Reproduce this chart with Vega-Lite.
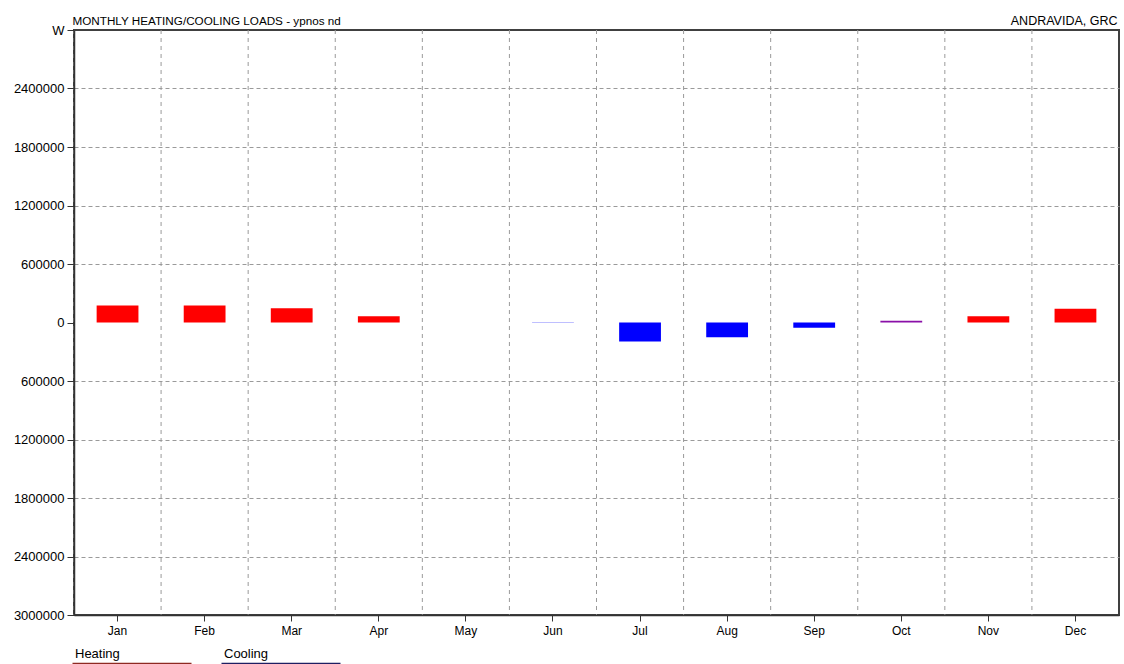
{
  "$schema": "https://vega.github.io/schema/vega-lite/v6.json",
  "width": 1045,
  "height": 585,
  "autosize": {"type": "none"},
  "padding": {"left": 74, "top": 30, "right": 5, "bottom": 49},
  "background": "#ffffff",
  "config": {
    "font": "Liberation Sans",
    "view": {"stroke": "#404040", "strokeWidth": 2}
  },
  "data": {
    "values": [
      {"month": "Jan", "load": 175000, "type": "Heating"},
      {"month": "Feb", "load": 175000, "type": "Heating"},
      {"month": "Mar", "load": 145000, "type": "Heating"},
      {"month": "Apr", "load": 65000, "type": "Heating"},
      {"month": "May", "load": 0, "type": "Heating"},
      {"month": "Jun", "load": -3000, "type": "Cooling"},
      {"month": "Jul", "load": -195000, "type": "Cooling"},
      {"month": "Aug", "load": -150000, "type": "Cooling"},
      {"month": "Sep", "load": -55000, "type": "Cooling"},
      {"month": "Oct", "load": 18000, "type": "Mixed"},
      {"month": "Nov", "load": 65000, "type": "Heating"},
      {"month": "Dec", "load": 140000, "type": "Heating"}
    ]
  },
  "encoding": {
    "x": {
      "field": "month",
      "type": "nominal",
      "sort": null,
      "scale": {
        "domain": ["Jan", "Feb", "Mar", "Apr", "May", "Jun", "Jul", "Aug", "Sep", "Oct", "Nov", "Dec"],
        "paddingInner": 0,
        "paddingOuter": 0
      },
      "axis": {
        "title": "ANDRAVIDA, GRC",
        "titleX": 1043,
        "titleY": -591,
        "titleAlign": "right",
        "titleAngle": 0,
        "titleBaseline": "alphabetic",
        "titleFontSize": 12.5,
        "titleFontWeight": "normal",
        "titleColor": "#000000",
        "labelAngle": 0,
        "labelFontSize": 12,
        "labelColor": "#000000",
        "labelPadding": 4,
        "tickSize": 6,
        "tickColor": "#333333",
        "domainColor": "#333333",
        "domainWidth": 1.5,
        "grid": false,
        "zindex": 1
      }
    }
  },
  "layer": [
    {
      "mark": {"type": "rule", "color": "#9a9a9a", "strokeDash": [4, 4], "strokeWidth": 1},
      "encoding": {
        "x": {"field": "month", "type": "nominal", "sort": null, "bandPosition": 0}
      }
    },
    {
      "mark": {"type": "bar", "width": {"band": 0.48}, "strokeWidth": 0},
      "encoding": {
        "y": {
          "field": "load",
          "type": "quantitative",
          "scale": {"domain": [-3000000, 3000000], "nice": false, "zero": false},
          "axis": {
            "title": "MONTHLY HEATING/COOLING LOADS - ypnos nd",
            "titleAngle": 0,
            "titleX": -2,
            "titleY": -6,
            "titleAlign": "left",
            "titleBaseline": "alphabetic",
            "titleFontSize": 11.7,
            "titleFontWeight": "normal",
            "titleColor": "#000000",
            "values": [-3000000, -2700000, -2400000, -2100000, -1800000, -1500000, -1200000, -900000, -600000, -300000, 0, 300000, 600000, 900000, 1200000, 1500000, 1800000, 2100000, 2400000, 2700000, 3000000],
            "labelExpr": "datum.value == 3000000 ? 'W' : (datum.value % 600000 == 0 ? format(abs(datum.value), 'd') : '')",
            "labelFontSize": 13,
            "labelColor": "#000000",
            "labelPadding": 3,
            "tickSize": 7,
            "tickColor": "#333333",
            "tickOpacity": {"condition": {"test": "datum.value % 600000 != 0", "value": 0}, "value": 1},
            "domainColor": "#333333",
            "domainWidth": 1.5,
            "grid": true,
            "gridColor": "#9a9a9a",
            "gridDash": [4, 3],
            "gridWidth": 1,
            "gridOpacity": {"condition": {"test": "abs(datum.value) == 3000000 || datum.value == 0", "value": 0}, "value": 1},
            "zindex": 1
          }
        },
        "fill": {
          "field": "type",
          "type": "nominal",
          "scale": {"domain": ["Heating", "Cooling", "Mixed"], "range": ["#ff0000", "#0000ff", "#8a10a8"]},
          "legend": {
            "values": ["Heating", "Cooling"],
            "title": null,
            "orient": "none",
            "legendX": -3,
            "legendY": 617,
            "direction": "horizontal",
            "symbolType": "M-1,2H22.8",
            "symbolSize": 100,
            "symbolStrokeWidth": 2,
            "labelOffset": -9,
            "labelFontSize": 13,
            "labelColor": "#000000",
            "columnPadding": 21,
            "padding": 0
          }
        },
        "stroke": {
          "field": "type",
          "type": "nominal",
          "scale": {"domain": ["Heating", "Cooling", "Mixed"], "range": ["#8e2a22", "#1e1e62", "#5a1070"]},
          "legend": {
            "values": ["Heating", "Cooling"],
            "title": null,
            "orient": "none",
            "legendX": -3,
            "legendY": 617,
            "direction": "horizontal",
            "symbolType": "M-1,2H22.8",
            "symbolSize": 100,
            "symbolStrokeWidth": 2,
            "labelOffset": -9,
            "labelFontSize": 13,
            "labelColor": "#000000",
            "columnPadding": 21,
            "padding": 0
          }
        }
      }
    },
    {
      "mark": {"type": "rule", "color": "#404040", "strokeWidth": 1.5},
      "encoding": {"y": {"datum": 0}}
    }
  ]
}
